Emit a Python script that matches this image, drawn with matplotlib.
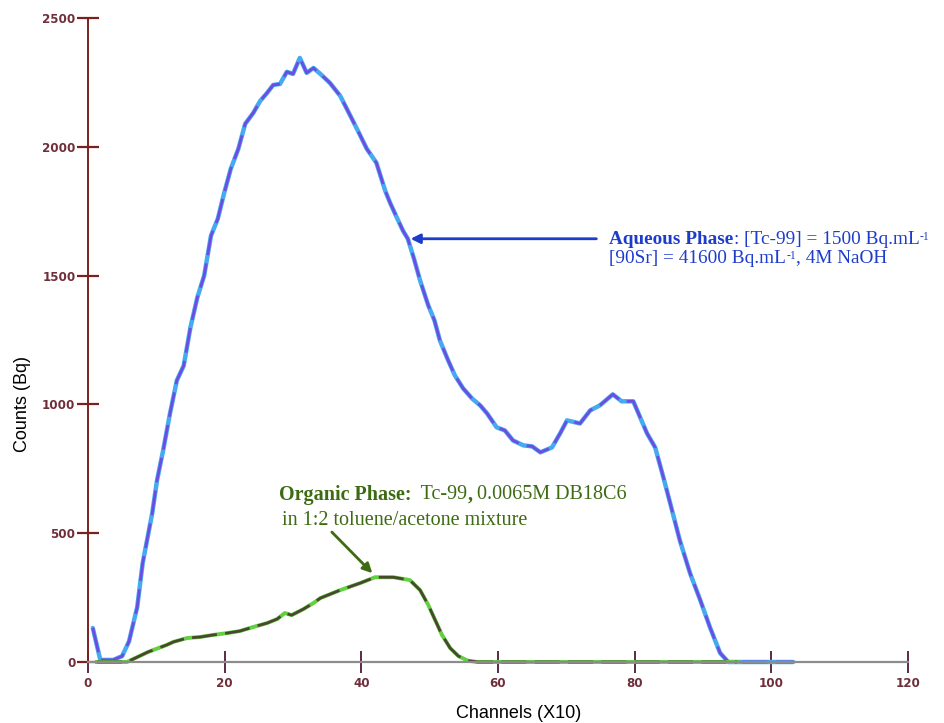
import matplotlib
matplotlib.use('Agg')
import matplotlib.pyplot as plt
from matplotlib.offsetbox import TextArea, HPacker, AnnotationBbox

# aqueous phase spectrum (channel x10, counts)
aq_ch = [0.7, 1.8, 3.7, 5.0, 6.0, 7.2, 8.0, 9.4, 10.1, 11.0, 12.0, 13.0, 14.0, 15.0,
         16.0, 17.0, 18.0, 19.0, 19.9, 20.9, 22.0, 23.0, 24.2, 25.2, 26.2, 27.1, 28.1,
         29.1, 30.0, 31.0, 32.0, 33.0, 34.0, 35.4, 36.9, 38.4, 39.5, 40.8, 42.2, 43.5,
         44.2, 45.2, 46.1, 46.8, 47.7, 48.6, 49.8, 50.7, 51.5, 52.7, 53.7, 54.9, 56.2,
         57.4, 58.4, 59.8, 61.0, 62.2, 63.7, 65.0, 66.2, 67.9, 69.1, 70.1, 72.0, 73.5,
         74.9, 76.8, 78.1, 79.8, 81.8, 83.0, 84.2, 85.2, 86.6, 88.1, 89.6, 91.0, 92.5,
         93.7, 103.2]
aq_counts = [132, 8, 8, 23, 80, 213, 384, 578, 705, 822, 965, 1093, 1150, 1300,
             1415, 1500, 1655, 1721, 1818, 1915, 1992, 2089, 2132, 2178, 2209, 2240, 2244,
             2291, 2283, 2345, 2287, 2306, 2283, 2248, 2198, 2120, 2062, 1992, 1938, 1829,
             1783, 1725, 1674, 1643, 1566, 1481, 1384, 1326, 1248, 1171, 1112, 1062, 1023,
             996, 965, 911, 899, 860, 841, 837, 814, 833, 888, 938, 926, 977,
             996, 1039, 1012, 1012, 888, 833, 717, 616, 473, 345, 240, 136, 35,
             0, 0]

# organic phase spectrum
org_ch = [1.3, 5.7, 8.8, 11.5, 12.5, 14.5, 16.4, 18.3, 20.3, 22.2, 24.2, 26.2, 27.7,
          28.8, 29.8, 31.5, 33.0, 34.0, 36.9, 39.8, 42.0, 44.7, 47.1, 48.6, 49.8, 50.8,
          51.8, 53.0, 54.2, 55.6, 57.0, 95.0]
org_counts = [0, 0, 39, 66, 78, 93, 97, 105, 112, 120, 136, 151, 167,
              190, 182, 205, 229, 248, 279, 306, 329, 329, 318, 279, 221, 163,
              105, 54, 23, 5, 0, 0]

x_ticks = [0, 20, 40, 60, 80, 100, 120]
y_ticks = [0, 500, 1000, 1500, 2000, 2500]

fig = plt.figure(figsize=(9.45, 7.23), dpi=100)
ax = fig.add_axes([88 / 945, 61 / 723, 820 / 945, 644 / 723])

# aqueous: light blue under purple dashes
ax.plot(aq_ch, aq_counts, color='#45aaf0', lw=3.2, solid_capstyle='round', clip_on=False)
ax.plot(aq_ch, aq_counts, color='#6e4ce2', lw=2.0, dashes=(9, 3), clip_on=False)
# organic: green under dark olive
ax.plot(org_ch, org_counts, color='#62d040', lw=2.8, clip_on=False)
ax.plot(org_ch, org_counts, color='#4a4630', lw=2.0, dashes=(9, 3), clip_on=False)

ax.set_xlim(0, 120)
ax.set_ylim(0, 2500)
ax.set_xticks(x_ticks)
ax.set_yticks(y_ticks)

for s in ['top', 'right']:
    ax.spines[s].set_visible(False)
ax.spines['left'].set_color('#7a2020')
ax.spines['left'].set_linewidth(1.4)
ax.spines['bottom'].set_color('#8c8c8c')
ax.spines['bottom'].set_linewidth(1.6)

ax.tick_params(axis='y', direction='inout', length=16, width=1.6, color='#7a2020', pad=1)
ax.tick_params(axis='x', direction='inout', length=16, width=1.4, color='#5a2a45', pad=3)
for lab in ax.get_xticklabels() + ax.get_yticklabels():
    lab.set_fontweight('bold')
    lab.set_fontsize(8.6)
    lab.set_color('#6e2e3a')

ax.set_ylabel('Counts (Bq)', fontsize=13, family='Liberation Sans')
ax.yaxis.set_label_coords(-0.07, 0.40)
ax.set_xlabel('Channels (X10)', fontsize=13, family='Liberation Sans')
ax.xaxis.set_label_coords(0.525, -0.066)


def rich_line(x, y, parts, color, size=14.2):
    # parts: (text, weight, scale); small parts sit at the top like a superscript
    boxes = [TextArea(s, textprops=dict(color=color, family='Liberation Serif',
                                        fontsize=size * k, fontweight=w))
             for s, w, k in parts]
    pack = HPacker(children=boxes, align='top', pad=0, sep=0)
    ab = AnnotationBbox(pack, (x, y), xycoords='data', box_alignment=(0, 0),
                        frameon=False, pad=0)
    ax.add_artist(ab)


# annotations
blue = '#1e3ccc'
ax.annotate('', xy=(46.8, 1643), xytext=(74.8, 1643),
            arrowprops=dict(arrowstyle='-|>', color=blue, lw=2, mutation_scale=14))
rich_line(76.3, 1607, [('Aqueous Phase', 'bold', 1),
                       (': [Tc-99] = 1500 Bq.mL', 'normal', 1),
                       ('-1', 'normal', 0.6)], blue, 13.9)
rich_line(76.3, 1535, [('[90Sr] = 41600 Bq.mL', 'normal', 1),
                       ('-1', 'normal', 0.6),
                       (', 4M NaOH', 'normal', 1)], blue, 13.9)

green = '#3d6b12'
ax.annotate('', xy=(41.9, 337), xytext=(35.4, 512),
            arrowprops=dict(arrowstyle='-|>', color=green, lw=2, mutation_scale=14))
rich_line(27.9, 610, [('Organic Phase:', 'bold', 1), ('  Tc-99', 'normal', 1),
                      (',', 'bold', 1), (' 0.0065M DB18C6', 'normal', 1)], green, 14.5)
rich_line(28.4, 513, [('in 1:2 toluene/acetone mixture', 'normal', 1)], green, 14.5)

plt.savefig('out.png', dpi=100)
